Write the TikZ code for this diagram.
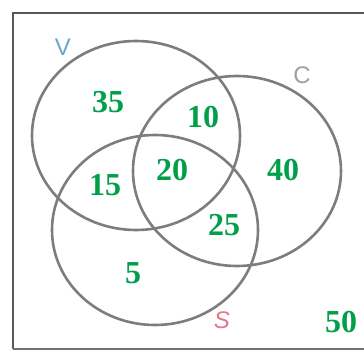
\documentclass[tikz,border=0pt]{standalone}
\usepackage{fontspec}
\usetikzlibrary{shapes.geometric}
\setmainfont{Liberation Serif}
\newfontfamily\handfont{Liberation Sans}
\definecolor{numgreen}{RGB}{0,160,75}
\definecolor{ringgray}{RGB}{125,125,128}
\definecolor{vblue}{RGB}{110,165,205}
\definecolor{cgray}{RGB}{160,160,160}
\definecolor{spink}{RGB}{225,120,140}
\begin{document}
\begin{tikzpicture}[x=1pt,y=-1pt,
  ring/.style={draw=ringgray,line width=2.6pt,ellipse,inner sep=0pt},
  num/.style={text=numgreen,font=\fontsize{32}{34}\selectfont\bfseries,inner sep=0pt},
  setlabel/.style={font=\fontsize{24}{26}\selectfont\handfont,inner sep=0pt}]
\useasboundingbox (0,0) rectangle (364,351);
\draw[draw=black!65,line width=2pt] (13,349) -- (13,13) -- (366,13);
\draw[draw=black!55,line width=1.5pt] (13,349) -- (366,349);
\node[ring,minimum width=208,minimum height=189] (V) at (136,135.5) {};
\node[ring,minimum width=208,minimum height=190] (C) at (237,171) {};
\node[ring,minimum width=206,minimum height=190] (S) at (155,230) {};
\node[setlabel,text=vblue] (lV) at (63,47) {V};
\node[setlabel,text=cgray] (lC) at (302,75) {C};
\node[setlabel,text=spink,font=\fontsize{24}{26}\selectfont\handfont\itshape] (lS) at (222,320) {S};
\node[num] (n35) at (108,102) {35};
\node[num] (n10) at (203,117) {10};
\node[num] (n20) at (172,170) {20};
\node[num] (n15) at (105,185) {15};
\node[num] (n40) at (283,170) {40};
\node[num] (n25) at (224,225) {25};
\node[num] (n5) at (133,273) {5};
\node[num] (n50) at (341,322) {50};
\end{tikzpicture}
\end{document}
